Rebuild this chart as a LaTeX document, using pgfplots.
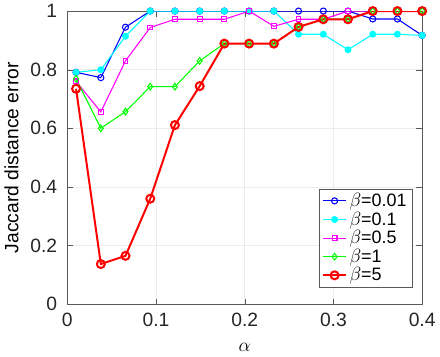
\documentclass[border=0pt]{standalone}
\usepackage{fontspec}
\setmainfont{Liberation Sans}
\usepackage{pgfplots}
\usepackage{pgfplotstable}
\pgfplotsset{compat=1.18}

% jaccard error vs alpha, one column per beta
\pgfplotstableread{
x      b1     b2     b3     b4     b5
0.0100 0.791  0.791  0.760  0.769  0.735
0.0379 0.773  0.800  0.656  0.600  0.137
0.0657 0.945  0.914  0.830  0.657  0.165
0.0936 1.000  1.000  0.944  0.742  0.360
0.1214 1.000  1.000  0.972  0.742  0.611
0.1493 1.000  1.000  0.972  0.830  0.744
0.1771 1.000  1.000  0.972  0.889  0.889
0.2050 1.000  1.000  1.000  0.889  0.889
0.2329 1.000  1.000  0.948  0.889  0.889
0.2607 1.000  0.921  0.972  0.946  0.946
0.2886 1.000  0.921  0.972  0.972  0.972
0.3164 1.000  0.868  1.000  0.972  0.972
0.3443 0.973  0.921  1.000  1.000  1.000
0.3721 0.973  0.921  1.000  1.000  1.000
0.4000 0.917  0.917  1.000  1.000  1.000
}\jacc

\definecolor{axgray}{RGB}{38,38,38}
\definecolor{mblue}{RGB}{0,0,255}
\definecolor{mcyan}{RGB}{0,255,255}
\definecolor{mmag}{RGB}{255,0,255}
\definecolor{mgreen}{RGB}{0,255,0}
\definecolor{mred}{RGB}{255,0,0}

\begin{document}
\begin{tikzpicture}
\begin{axis}[
  scale only axis,
  width=267pt, height=220.5pt,
  xmin=0, xmax=0.4, ymin=0, ymax=1,
  xtick={0,0.1,0.2,0.3,0.4},
  ytick={0,0.2,0.4,0.6,0.8,1},
  /pgf/number format/assume math mode=true,
  font=\fontsize{14.5}{17}\selectfont,
  ticklabel style={text=axgray},
  yticklabel style={xshift=-4pt},
  xticklabel style={yshift=-3pt},
  xlabel style={yshift=-6pt},
  ylabel style={yshift=2pt},
  axis line style={gray!70!black},
  tick style={gray!70!black},
  tick align=inside,
  grid=major, grid style={gray!15},
  xlabel={$\alpha$}, ylabel={Jaccard distance error},
  legend cell align=left,
  legend style={at={(0.972,0.058)}, anchor=south east,
    font=\fontsize{13.5}{15}\selectfont, draw=gray!70!black,
    row sep=-1.5pt, inner xsep=2pt, inner ysep=1pt},
]
\addplot[mblue, line width=0.8pt, mark=o, mark size=2.3pt] table[x=x, y=b1] {\jacc};
\addlegendentry{$\beta$=0.01}
\addplot[mcyan, line width=0.8pt, mark=*, mark size=2.2pt] table[x=x, y=b2] {\jacc};
\addlegendentry{$\beta$=0.1}
\addplot[mmag, line width=0.8pt, mark=square, mark size=1.8pt] table[x=x, y=b3] {\jacc};
\addlegendentry{$\beta$=0.5}
\addplot[mgreen, line width=0.8pt, mark=diamond, mark size=2.5pt] table[x=x, y=b4] {\jacc};
\addlegendentry{$\beta$=1}
\addplot[mred, line width=1.5pt, mark=o, mark size=3pt] table[x=x, y=b5] {\jacc};
\addlegendentry{$\beta$=5}
\end{axis}
\end{tikzpicture}
\end{document}
